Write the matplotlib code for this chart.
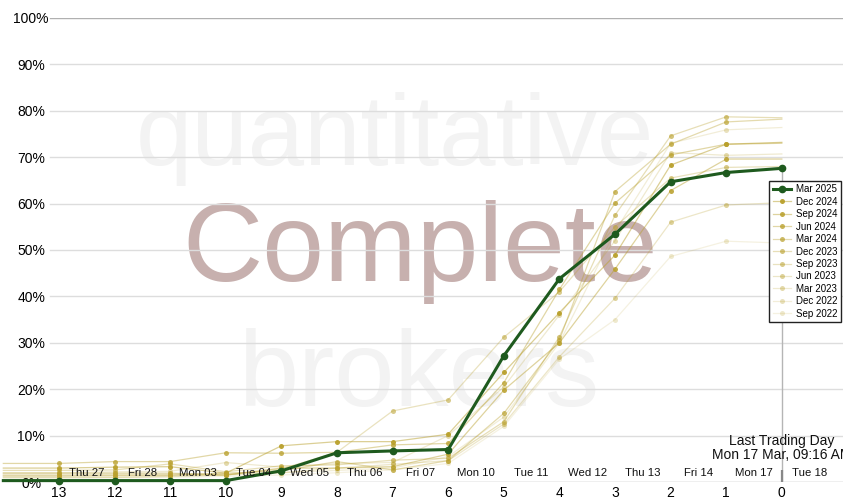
import matplotlib
matplotlib.use("Agg")
import matplotlib.pyplot as plt
from matplotlib.colors import to_rgba

plt.rcParams['font.family'] = ['Liberation Sans', 'DejaVu Sans']

# ---- data ----
days_left = [14, 13, 12, 11, 10, 9, 8, 7, 6, 5, 4, 3, 2, 1, 0]
x_ticks = [13, 12, 11, 10, 9, 8, 7, 6, 5, 4, 3, 2, 1, 0]
y_ticks = [0, 10, 20, 30, 40, 50, 60, 70, 80, 90, 100]
day_labels = ["Thu 27", "Fri 28", "Mon 03", "Tue 04", "Wed 05", "Thu 06", "Fri 07",
              "Mon 10", "Tue 11", "Wed 12", "Thu 13", "Fri 14", "Mon 17", "Tue 18"]
day_label_pos = [12.5, 11.5, 10.5, 9.5, 8.5, 7.5, 6.5, 5.5, 4.5, 3.5, 2.5, 1.5, 0.5, -0.5]

current_name = "Mar 2025"
current = [0.3, 0.3, 0.3, 0.3, 0.3, 2.4, 6.3, 6.7, 7.0, 27.2, 43.8, 53.4, 64.7, 66.7, 67.6]

hist_names = ["Dec 2024", "Sep 2024", "Jun 2024", "Mar 2024", "Dec 2023", "Sep 2023",
              "Jun 2023", "Mar 2023", "Dec 2022", "Sep 2022"]
dec_2024 = [3.0, 3.0, 3.2, 3.3, 1.9, 7.8, 8.7, 8.7, 10.3, 23.6, 36.5, 48.9, 68.3, 72.8, 73.2]
sep_2024 = [1.9, 1.9, 1.9, 1.9, 1.5, 3.0, 3.0, 3.3, 6.0, 19.8, 30.0, 45.9, 62.8, 69.6, 69.6]
jun_2024 = [4.0, 4.0, 4.4, 4.4, 6.3, 6.2, 6.4, 8.0, 8.3, 21.4, 41.5, 60.1, 70.5, 72.8, 73.0]
mar_2024 = [1.5, 1.5, 1.5, 1.5, 1.9, 2.4, 4.4, 2.6, 4.6, 14.8, 30.6, 62.6, 72.8, 77.6, 78.2]
dec_2023 = [2.5, 2.5, 2.6, 3.9, 2.2, 3.5, 3.7, 4.7, 5.1, 13.0, 31.3, 57.5, 74.6, 78.7, 78.5]
sep_2023 = [1.0, 1.0, 1.0, 1.2, 1.5, 2.8, 6.4, 15.3, 17.7, 31.2, 41.0, 55.0, 65.5, 67.8, 68.0]
jun_2023 = [1.2, 1.2, 1.3, 1.4, 1.5, 2.0, 3.0, 3.8, 4.6, 12.5, 27.0, 39.6, 56.0, 59.7, 60.2]
mar_2023 = [2.0, 2.0, 2.2, 2.3, 4.2, 3.2, 4.0, 4.2, 10.0, 20.5, 36.0, 52.0, 71.0, 70.4, 70.7]
dec_2022 = [1.4, 1.4, 1.5, 1.6, 1.8, 2.0, 2.5, 3.0, 5.5, 14.0, 30.0, 54.0, 73.0, 75.9, 76.4]
sep_2022 = [0.8, 0.8, 0.9, 1.0, 1.2, 1.5, 2.0, 2.6, 4.0, 12.0, 26.5, 35.0, 48.6, 51.9, 51.5]
hist_series = [dec_2024, sep_2024, jun_2024, mar_2024, dec_2023, sep_2023,
               jun_2023, mar_2023, dec_2022, sep_2022]

last_day_text = "Last Trading Day\nMon 17 Mar, 09:16 AM"

# ---- figure ----
W, H = 850, 500
fig = plt.figure(figsize=(W / 100, H / 100), dpi=100)
ax_left, ax_right, ax_top, ax_bot = 0, 843, 18, 482
ax = fig.add_axes([ax_left / W, 1 - ax_bot / H, (ax_right - ax_left) / W, (ax_bot - ax_top) / H])
ax.set_facecolor('none')
ax.set_xlim(14.06, -1.10)
ax.set_ylim(0, 100)
for s in ax.spines.values():
    s.set_visible(False)

# watermarks
ax.text(0.468, 0.74, "quantitative", transform=ax.transAxes, fontsize=73,
        color='#f3f3f3', ha='center', va='center', zorder=0)
ax.text(0.498, 0.495, "Complete", transform=ax.transAxes, fontsize=80,
        color='#c7b0ae', ha='center', va='center', zorder=0)
ax.text(0.497, 0.225, "brokers", transform=ax.transAxes, fontsize=78,
        color='#f3f3f3', ha='center', va='center', zorder=0)

# gridlines
gx0 = 50 / (ax_right - ax_left)
for yv in y_ticks:
    col = '#b0b0b0' if yv in (0, 100) else '#dddddd'
    ax.axhline(yv, xmin=gx0, xmax=1, color=col, lw=1.0, zorder=1)

# vertical marker at day 0
ax.vlines(0, 0, current[-1], color='#b5b5b5', lw=1.0, zorder=1)
ax.vlines(0, 0, 2.6, color='#888888', lw=1.6, zorder=1)

# historical series
base = to_rgba('#b9a02c')
n = len(hist_series)
for i, (name, vals) in enumerate(zip(hist_names, hist_series)):
    la = 0.5 - i * 0.04
    ma = 0.95 - i * 0.08
    lc = (base[0], base[1], base[2], la)
    mc = (base[0], base[1], base[2], ma)
    ax.plot(days_left, vals, color=lc, lw=0.9, marker='o', markersize=3.6,
            markerfacecolor=mc, markeredgecolor=mc, markeredgewidth=0,
            markevery=list(range(1, len(days_left) - 1)), label=name,
            zorder=3 + (n - i) * 0.01, clip_on=False)

# current series
ax.plot(days_left, current, color='#1e5a1e', lw=2.2, marker='o', markersize=4.5,
        markevery=list(range(1, len(days_left))), label=current_name, zorder=5,
        clip_on=False)

# ticks
ax.set_xticks(x_ticks)
ax.set_xticklabels([str(v) for v in x_ticks], fontsize=10)
ax.set_yticks(y_ticks)
ax.set_yticklabels([f"{v}%" for v in y_ticks], fontsize=10)
ax.tick_params(axis='x', length=0, pad=3)
ax.tick_params(axis='y', length=0, pad=-22.5)
for lab in ax.get_yticklabels():
    lab.set_horizontalalignment('center')

# day labels
for pos, lab in zip(day_label_pos, day_labels):
    ax.text(pos, 1.9, lab, fontsize=8.2, ha='center', va='center', color='#111111', zorder=6)

# last trading day
ax.text(0, 7.3, last_day_text, fontsize=10, ha='center', va='center',
        linespacing=0.95, color='#111111', zorder=6, clip_on=True)

# legend
handles, labels = ax.get_legend_handles_labels()
order = [labels.index(current_name)] + [labels.index(nm) for nm in hist_names]
leg = ax.legend([handles[k] for k in order], [labels[k] for k in order],
                loc='upper right', bbox_to_anchor=(841 / 843, (482 - 181) / 464),
                fontsize=7, frameon=True, fancybox=False, framealpha=1,
                edgecolor='#222222', borderpad=0.35, labelspacing=0.25,
                handlelength=1.9, handletextpad=0.5, borderaxespad=0)
leg.get_frame().set_linewidth(1.0)
leg.set_zorder(10)

fig.savefig("out.png", dpi=100)
